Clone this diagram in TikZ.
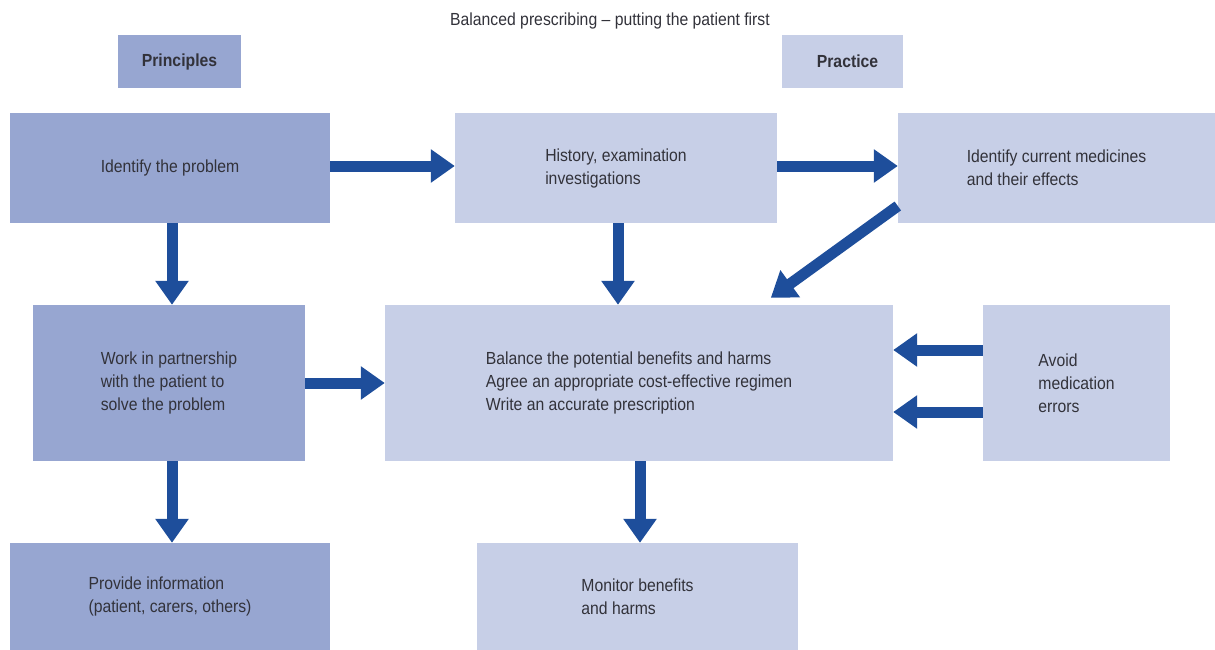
\documentclass[tikz,border=0pt]{standalone}
\usepackage{fontspec}
\setmainfont{Liberation Sans}[FakeStretch=0.9]
\usetikzlibrary{arrows.meta,calc}

\definecolor{boxdark}{RGB}{151,166,209}
\definecolor{boxlight}{RGB}{199,207,231}
\definecolor{flow}{RGB}{30,78,155}
\definecolor{ink}{RGB}{50,50,58}

\begin{document}
\begin{tikzpicture}[x=1pt,y=-1pt,
  every node/.style={font=\fontsize{17.5}{23}\selectfont, text=ink},
  panel/.style={rectangle, draw=none, inner sep=0pt, align=left},
  darkpanel/.style={panel, fill=boxdark},
  lightpanel/.style={panel, fill=boxlight},
  flowarrow/.style={draw=flow, line width=11pt, -{Triangle[width=32pt,length=24pt]}}]

\useasboundingbox (0,0) rectangle (1215,650);

% heading and column labels
\node (title) at (610,21) {Balanced prescribing -- putting the patient first};
\node[darkpanel, minimum width=123pt, minimum height=53pt, font=\fontsize{17.5}{23}\selectfont\bfseries] (prin) at (179.5,61.5) {Principles};
\node[lightpanel, minimum width=121pt, minimum height=53pt, font=\fontsize{17.5}{23}\selectfont\bfseries] (prac) at (842.5,61.5) {\hspace*{10pt}Practice};

% top row
\node[darkpanel, minimum width=320pt, minimum height=110pt] (idp) at (170,168) {Identify the problem};
\node[lightpanel, minimum width=322pt, minimum height=110pt] (hist) at (616,168) {History, examination\\investigations};
\node[lightpanel, minimum width=317pt, minimum height=110pt] (med) at (1056.5,168) {Identify current medicines\\and their effects};

% middle row
\node[darkpanel, minimum width=272pt, minimum height=156pt] (work) at (169,383) {Work in partnership\\with the patient to\\solve the problem};
\node[lightpanel, minimum width=508pt, minimum height=156pt] (bal) at (639,383) {Balance the potential benefits and harms\\Agree an appropriate cost-effective regimen\\Write an accurate prescription};
\node[lightpanel, minimum width=187pt, minimum height=156pt] (avoid) at (1076.5,383) {Avoid\\medication\\errors};

% bottom row
\node[darkpanel, minimum width=320pt, minimum height=107pt] (prov) at (170,596.5) {Provide information\\(patient, carers, others)};
\node[lightpanel, minimum width=321pt, minimum height=107pt] (mon) at (637.5,596.5) {Monitor benefits\\and harms};

% horizontal connectors
\draw[flowarrow] ([yshift=2pt]idp.east) -- ([yshift=2pt]hist.west);
\draw[flowarrow] ([yshift=2pt]hist.east) -- ([yshift=2pt]med.west);
\draw[flowarrow] (work.east) -- (bal.west);
\draw[flowarrow] ([yshift=33pt]avoid.west) -- ([yshift=33pt]bal.east);
\draw[flowarrow] ([yshift=-29pt]avoid.west) -- ([yshift=-29pt]bal.east);

% vertical connectors
\draw[flowarrow] ([xshift=2pt]idp.south) -- ([xshift=2pt]idp.south |- work.north);
\draw[flowarrow] ([xshift=2pt]hist.south) -- ([xshift=2pt]hist.south |- bal.north);
\draw[flowarrow] ([xshift=2pt]work.south -| idp.south) -- ([xshift=2pt]idp.south |- prov.north);
\draw[flowarrow] ([xshift=1pt]bal.south) -- ([xshift=1pt]bal.south |- mon.north);

% diagonal connector
\draw[flowarrow] ($(med.west)+(0,38)$) -- ($(bal.north west)+(386,-7)$);

\end{tikzpicture}
\end{document}
